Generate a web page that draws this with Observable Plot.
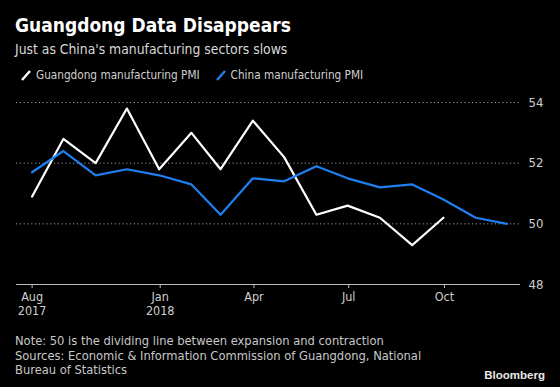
<!DOCTYPE html>
<html>
<head>
<meta charset="utf-8">
<script src="https://cdn.jsdelivr.net/npm/d3@7"></script>
<script src="https://cdn.jsdelivr.net/npm/@observablehq/plot@0.6"></script>
<style>
  html, body { margin: 0; padding: 0; background: #000; }
  #wrap { position: relative; width: 560px; height: 387px; background: #000; overflow: hidden; font-family: "DejaVu Sans Condensed", "DejaVu Sans", sans-serif; }
  .abs { position: absolute; white-space: nowrap; }
  #title { left: 15px; top: 14px; font: bold 19px/22px "DejaVu Sans Condensed", "DejaVu Sans", sans-serif; color: #fff; }
  #subtitle { left: 15px; top: 38.5px; font: 13.8px/20px "DejaVu Sans Condensed", "DejaVu Sans", sans-serif; color: #d8d8d8; }
  #legend { left: 21px; top: 66px; font: 11.7px/18px "DejaVu Sans Condensed", "DejaVu Sans", sans-serif; color: #d0d0d0; display: flex; align-items: center; }
  #legend .item { display: flex; align-items: center; margin-right: 16px; }
  #legend svg { margin-right: 5px; }
  #chart { left: 0; top: 88px; }
  #footer { left: 15px; top: 334px; font: 12.8px/14.7px "DejaVu Sans Condensed", "DejaVu Sans", sans-serif; color: #c8c8c8; }
  #brand { right: 15px; top: 367.5px; font: bold 11.5px/14px "Liberation Sans", sans-serif; color: #e8e8e8; }
</style>
</head>
<body>
<div id="wrap">
  <div id="title" class="abs">Guangdong Data Disappears</div>
  <div id="subtitle" class="abs">Just as China's manufacturing sectors slows</div>
  <div id="legend" class="abs"></div>
  <div id="chart" class="abs"></div>
  <div id="footer" class="abs">Note: 50 is the dividing line between expansion and contraction<br>Sources: Economic &amp; Information Commission of Guangdong, National<br>Bureau of Statistics</div>
  <div id="brand" class="abs">Bloomberg</div>
</div>
<script>
// Data
const months = ["2017-08","2017-09","2017-10","2017-11","2017-12","2018-01","2018-02","2018-03","2018-04","2018-05","2018-06","2018-07","2018-08","2018-09","2018-10","2018-11"];
const chinaPMI = [51.7,52.4,51.6,51.8,51.6,51.3,50.3,51.5,51.4,51.9,51.5,51.2,51.3,50.8,50.2,50.0];
const guangdongPMI = [50.9,52.8,52.0,53.8,51.8,53.0,51.8,53.4,52.2,50.3,50.6,50.2,49.3,50.2];
const seriesNames = ["Guangdong manufacturing PMI", "China manufacturing PMI"];
const seriesColors = ["#ffffff", "#1f7ff0"];
const xTickDates = ["2017-08-31","2018-01-01","2018-04-01","2018-07-01","2018-10-01"];
const xTickLabels = ["Aug\n2017","Jan\n2018","Apr","Jul","Oct"];
const yTicks = [48, 50, 52, 54];

// month-end dates for data points
const monthEnd = m => d3.utcDay.offset(d3.utcMonth.offset(d3.utcParse("%Y-%m")(m), 1), -1);
const rows = [];
guangdongPMI.forEach((v, i) => rows.push({date: monthEnd(months[i]), value: v, series: seriesNames[0]}));
chinaPMI.forEach((v, i) => rows.push({date: monthEnd(months[i]), value: v, series: seriesNames[1]}));
const tickDates = xTickDates.map(d => d3.utcParse("%Y-%m-%d")(d));
const labelOf = new Map(tickDates.map((d, i) => [+d, xTickLabels[i]]));

const plot = Plot.plot({
  width: 560,
  height: 230,
  marginLeft: 16,
  marginRight: 40,
  marginTop: 14,
  marginBottom: 34,
  style: {background: "#000", color: "#cfcfcf", fontFamily: "'DejaVu Sans Condensed', 'DejaVu Sans', sans-serif", fontSize: "12.5px"},
  x: {type: "utc", domain: [new Date("2017-08-16"), new Date("2018-12-13")]},
  y: {domain: [48, 54]},
  color: {domain: seriesNames, range: seriesColors},
  marks: [
    Plot.ruleY(yTicks.filter(d => d > 48), {stroke: "#9a9a9a", strokeWidth: 1, strokeDasharray: "1.2,2.6"}),
    Plot.ruleY([48], {stroke: "#bdbdbd", strokeWidth: 1}),
    Plot.axisX({ticks: tickDates, tickSize: 4, tickPadding: 3, stroke: "#bdbdbd", fill: "#cfcfcf", tickFormat: d => labelOf.get(+d), lineHeight: 1.12, fontSize: 12.5, label: null}),
    Plot.axisY({anchor: "right", ticks: yTicks, tickSize: 0, tickPadding: 8, fill: "#cfcfcf", fontSize: 13, tickFormat: d => String(d), label: null}),
    Plot.lineY(rows, {x: "date", y: "value", z: "series", stroke: "series", strokeWidth: 2.2, curve: "linear"})
  ]
});
document.getElementById("chart").appendChild(plot);

// legend
const legend = document.getElementById("legend");
seriesNames.forEach((name, i) => {
  const item = document.createElement("div");
  item.className = "item";
  item.innerHTML = `<svg width="10" height="12"><line x1="1" y1="11" x2="9" y2="2" stroke="${seriesColors[i]}" stroke-width="2.4"/></svg><span>${name}</span>`;
  legend.appendChild(item);
});
</script>
</body>
</html>
